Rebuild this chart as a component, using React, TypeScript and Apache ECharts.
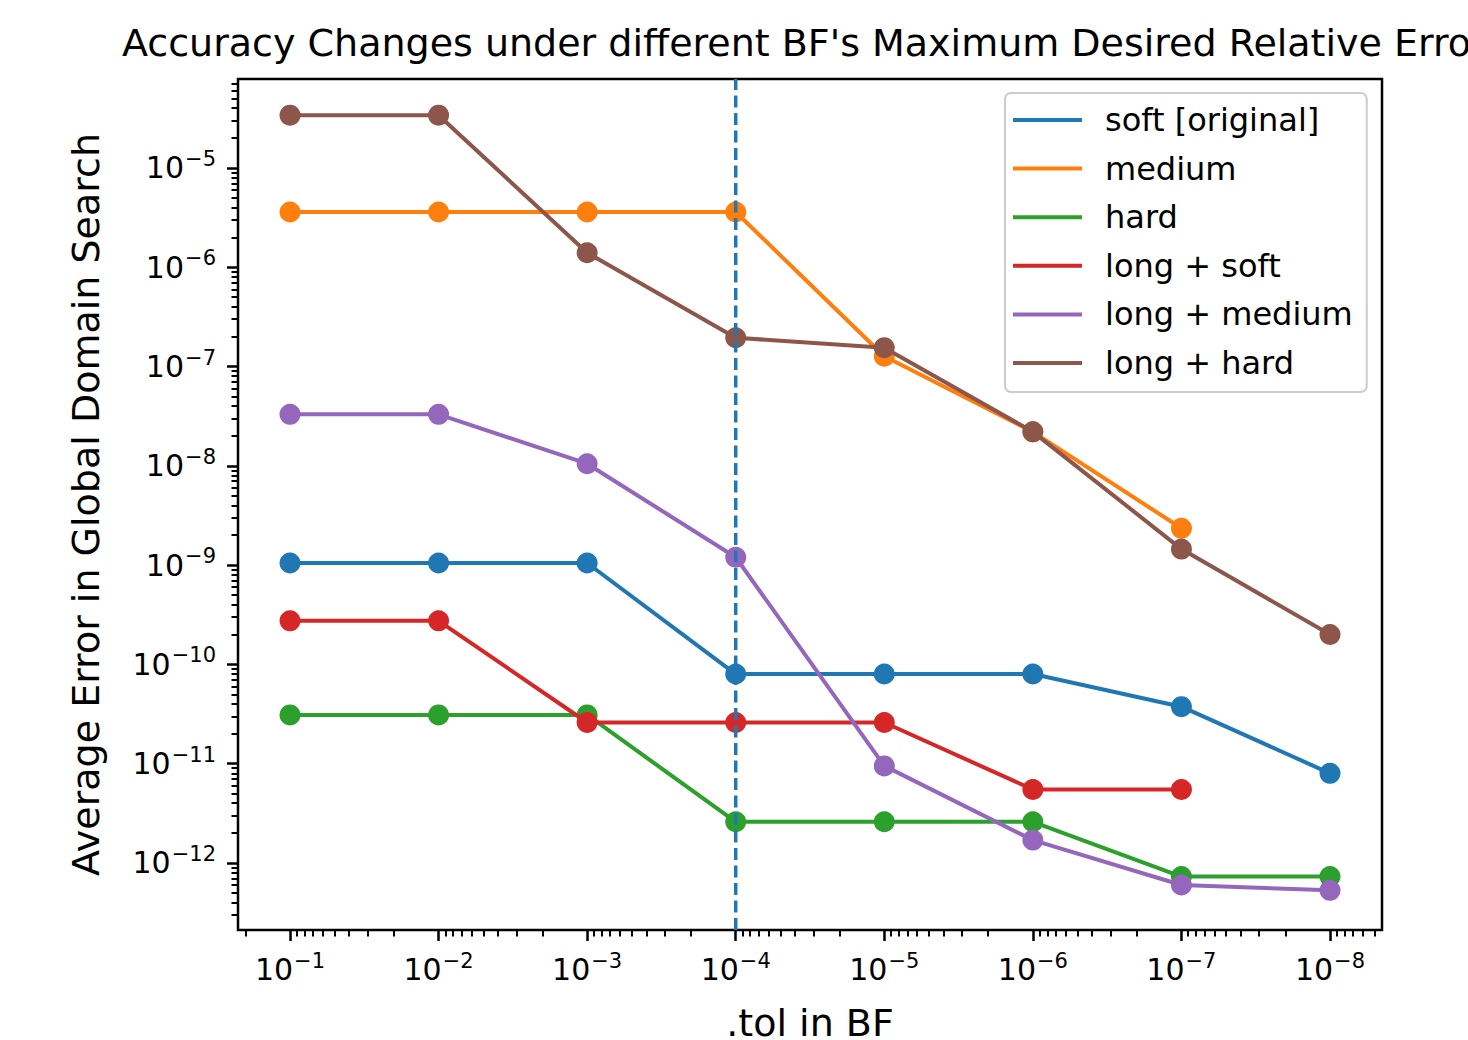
import React, { useEffect, useRef } from "react";
import * as echarts from "echarts";

// ---- data ----
const tolValues = [1e-1, 1e-2, 1e-3, 1e-4, 1e-5, 1e-6, 1e-7, 1e-8];
const seriesNames = ["soft [original]", "medium", "hard", "long + soft", "long + medium", "long + hard"];
const softOriginal = [1.05e-9, 1.05e-9, 1.05e-9, 8.0e-11, 8.0e-11, 8.0e-11, 3.75e-11, 8.0e-12];
const medium = [3.6e-6, 3.6e-6, 3.6e-6, 3.6e-6, 1.27e-7, 2.2e-8, 2.35e-9, null];
const hard = [3.1e-11, 3.1e-11, 3.1e-11, 2.6e-12, 2.6e-12, 2.6e-12, 7.3e-13, 7.3e-13];
const longSoft = [2.75e-10, 2.75e-10, 2.6e-11, 2.6e-11, 2.6e-11, 5.5e-12, 5.5e-12, null];
const longMedium = [3.3e-8, 3.3e-8, 1.05e-8, 1.2e-9, 9.5e-12, 1.7e-12, 6.0e-13, 5.3e-13];
const longHard = [3.4e-5, 3.4e-5, 1.4e-6, 1.95e-7, 1.55e-7, 2.2e-8, 1.45e-9, 2.0e-10];
const seriesValues = [softOriginal, medium, hard, longSoft, longMedium, longHard];
const colors = ["#1f77b4", "#ff7f0e", "#2ca02c", "#d62728", "#9467bd", "#8c564b"];

const xMajorExps = [-1, -2, -3, -4, -5, -6, -7, -8];
const yMajorExps = [-5, -6, -7, -8, -9, -10, -11, -12];
const markerTol = 1e-4;

// axis extents in decades
const X_MIN = -8.35;
const X_MAX = -0.65;
const Y_MIN = -12.675;
const Y_MAX = -4.104;

const FONT = "DejaVu Sans";

function minorTicks(lo: number, hi: number): number[] {
  const out: number[] = [];
  for (let n = Math.floor(lo) - 1; n <= Math.ceil(hi); n++) {
    for (let k = 2; k <= 9; k++) {
      const v = n + Math.log10(k);
      if (v >= lo && v <= hi) out.push(v);
    }
  }
  return out;
}

function powLabel(v: number) {
  const e = Math.round(v);
  const s = e < 0 ? "\u2212" + String(-e) : String(e);
  return `{b|10}{s|${s}}`;
}

const richLabel = {
  b: { fontSize: 30, fontFamily: FONT, color: "#000" },
  s: { fontSize: 21, fontFamily: FONT, color: "#000", padding: [0, 0, 18, 1] },
};

export default function App() {
  const ref = useRef<HTMLDivElement>(null);
  useEffect(() => {
    document.body.style.margin = "0";
    if (!ref.current) return;
    const chart = echarts.init(ref.current, null, { renderer: "svg" });

    const series: any[] = seriesNames.map((name, i) => ({
      name,
      type: "line",
      z: 2 + i,
      data: tolValues
        .map((t, j) => [t, seriesValues[i][j]])
        .filter((p) => p[1] != null)
        .map((p) => [Math.log10(p[0] as number), Math.log10(p[1] as number)]),
      symbol: "circle",
      symbolSize: 21,
      showSymbol: true,
      lineStyle: { color: colors[i], width: 4 },
      itemStyle: { color: colors[i] },
      color: colors[i],
    }));
    series.push({
      name: "axvline",
      type: "line",
      z: 20,
      data: [
        [Math.log10(markerTol), Y_MIN],
        [Math.log10(markerTol), Y_MAX],
      ],
      symbol: "none",
      lineStyle: { color: "#1f77b4", width: 3.5, type: [12, 5.5] },
      silent: true,
    });

    const baseAxis = {
      type: "value",
      splitLine: { show: false },
      axisLine: { show: false },
    };

    chart.setOption({
      animation: false,
      backgroundColor: "#fff",
      title: {
        text: "Accuracy Changes under different BF's Maximum Desired Relative Error",
        left: 122,
        top: 24,
        padding: 0,
        textStyle: { fontSize: 38, fontWeight: "normal", fontFamily: FONT, color: "#000" },
      },
      legend: {
        data: seriesNames,
        orient: "vertical",
        left: 1005,
        top: 93,
        align: "left",
        icon: "rect",
        itemWidth: 69,
        itemHeight: 4,
        itemGap: 12.6,
        padding: [9, 14, 11, 8],
        borderColor: "#cccccc",
        borderWidth: 2,
        borderRadius: 6,
        backgroundColor: "rgba(255,255,255,0.8)",
        textStyle: {
          fontSize: 32,
          fontFamily: FONT,
          color: "#000",
          lineHeight: 36,
          padding: [0, 0, 0, 18],
        },
      },
      grid: {
        left: 238,
        top: 79,
        width: 1144,
        height: 851,
        show: true,
        borderColor: "#000",
        borderWidth: 2.5,
        containLabel: false,
        outerBoundsMode: "none",
      },
      xAxis: [
        {
          ...baseAxis,
          min: X_MIN,
          max: X_MAX,
          inverse: true,
          name: ".tol in BF",
          nameLocation: "middle",
          nameGap: 74,
          nameTextStyle: { fontSize: 38, fontFamily: FONT, color: "#000" },
          axisTick: { show: true, length: 11, customValues: xMajorExps, lineStyle: { color: "#000", width: 2.5 } },
          axisLabel: {
            show: true,
            customValues: xMajorExps,
            margin: 20,
            formatter: (v: number) => powLabel(v),
            rich: richLabel,
          },
        },
        {
          ...baseAxis,
          min: X_MIN,
          max: X_MAX,
          inverse: true,
          position: "bottom",
          axisTick: { show: true, length: 6.5, customValues: minorTicks(X_MIN, X_MAX), lineStyle: { color: "#000", width: 2 } },
          axisLabel: { show: false },
        },
      ],
      yAxis: [
        {
          ...baseAxis,
          min: Y_MIN,
          max: Y_MAX,
          name: "Average Error in Global Domain Search",
          nameLocation: "middle",
          nameGap: 133,
          nameTextStyle: { fontSize: 38, fontFamily: FONT, color: "#000" },
          axisTick: { show: true, length: 11, customValues: yMajorExps, lineStyle: { color: "#000", width: 2.5 } },
          axisLabel: {
            show: true,
            customValues: yMajorExps,
            margin: 22,
            formatter: (v: number) => powLabel(v),
            rich: richLabel,
          },
        },
        {
          ...baseAxis,
          min: Y_MIN,
          max: Y_MAX,
          position: "left",
          axisTick: { show: true, length: 6.5, customValues: minorTicks(Y_MIN, Y_MAX), lineStyle: { color: "#000", width: 2 } },
          axisLabel: { show: false },
        },
      ],
      series,
    });
    return () => chart.dispose();
  }, []);
  return <div ref={ref} style={{ position: "absolute", left: 0, top: 0, width: 1468, height: 1040 }} />;
}
